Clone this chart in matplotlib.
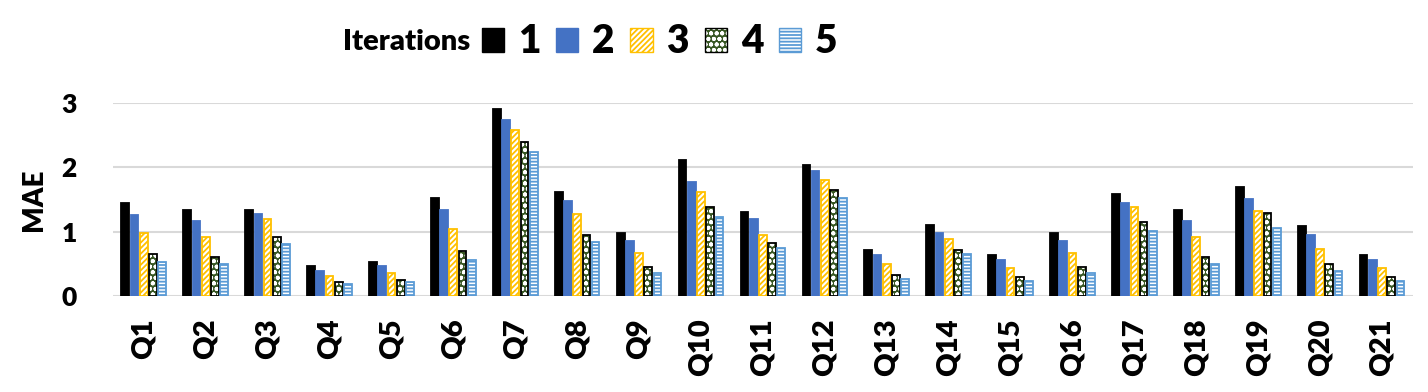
import matplotlib
matplotlib.use("Agg")
import matplotlib.pyplot as plt
import numpy as np
from matplotlib.patches import Patch

plt.rcParams['font.family'] = ['Lato', 'DejaVu Sans']
plt.rcParams['font.weight'] = 'heavy'
plt.rcParams['axes.labelweight'] = 'heavy'

queries = ["Q%d" % i for i in range(1, 22)]
it1 = [1.45, 1.34, 1.33, 0.46, 0.53, 1.53, 2.91, 1.62, 0.98, 2.12, 1.31,
       2.03, 0.72, 1.11, 0.64, 0.98, 1.59, 1.34, 1.70, 1.09, 0.64]
it2 = [1.26, 1.17, 1.28, 0.39, 0.47, 1.34, 2.74, 1.48, 0.86, 1.78, 1.19,
       1.95, 0.64, 0.98, 0.56, 0.86, 1.44, 1.17, 1.51, 0.95, 0.56]
it3 = [0.98, 0.91, 1.20, 0.31, 0.36, 1.04, 2.58, 1.27, 0.67, 1.62, 0.95,
       1.81, 0.50, 0.89, 0.44, 0.67, 1.38, 0.91, 1.32, 0.73, 0.44]
it4 = [0.65, 0.61, 0.92, 0.21, 0.25, 0.70, 2.39, 0.95, 0.45, 1.38, 0.82,
       1.65, 0.33, 0.72, 0.30, 0.45, 1.15, 0.61, 1.29, 0.50, 0.30]
it5 = [0.53, 0.49, 0.81, 0.18, 0.21, 0.56, 2.24, 0.84, 0.36, 1.23, 0.75,
       1.53, 0.27, 0.66, 0.24, 0.36, 1.01, 0.49, 1.05, 0.39, 0.24]
series = [it1, it2, it3, it4, it5]
labels = ["1", "2", "3", "4", "5"]

# style per iteration: face, hatch, hatch colour, edge colour
styles = [
    ("black", "", "black", "black"),
    ("#4472C4", "", "#4472C4", "#4472C4"),
    ("white", "//////", "#FFC000", "#FFC000"),
    ("#375623", "ooo", "white", "black"),
    ("white", "-----", "#5B9BD5", "#5B9BD5"),
]

fig = plt.figure(figsize=(14.28, 3.92), dpi=100)
ax = fig.add_axes([0.079, 0.245, 0.9105, 0.492])

x = np.arange(len(queries))
slot = 0.149
width = 0.125
plt.rcParams['hatch.linewidth'] = 1.3
for i, vals in enumerate(series):
    face, hatch, hcol, ecol = styles[i]
    pos = x + (i - 2) * slot
    ax.bar(pos, vals, width, color=face, hatch=hatch, edgecolor=hcol,
           linewidth=0, zorder=3)
    ax.bar(pos, vals, width, color="none", edgecolor=ecol, linewidth=1.3,
           zorder=4)

ax.set_xlim(-0.5, len(queries) - 0.5)
ax.set_ylim(0, 3)
ax.set_yticks([0, 1, 2, 3])
ax.set_xticks(x)
ax.set_xticklabels(queries, rotation=90, fontsize=21)
ax.tick_params(axis='y', labelsize=19, length=0, pad=26)
ax.tick_params(axis='x', length=0, pad=16)
ax.set_ylabel("MAE", fontsize=20, labelpad=10)
ax.yaxis.grid(True, color="#D9D9D9", linewidth=1.5, zorder=0)
for s in ax.spines.values():
    s.set_visible(False)

handles = []
for face, hatch, hcol, ecol in styles:
    fill = Patch(facecolor=face, hatch=hatch, edgecolor=hcol, linewidth=0)
    border = Patch(facecolor="none", edgecolor=ecol, linewidth=1)
    handles.append((fill, border))
fig.legend(handles, labels, loc='center left', bbox_to_anchor=(0.3375, 0.893),
           ncol=5, frameon=False, prop={'size': 28, 'weight': 'heavy'},
           handlelength=0.57, handleheight=0.57, handletextpad=0.36,
           columnspacing=0.4, borderpad=0, borderaxespad=0)
fig.text(0.24, 0.893, "Iterations", fontsize=21, va='center', ha='left')

fig.savefig("out.png", dpi=100)
